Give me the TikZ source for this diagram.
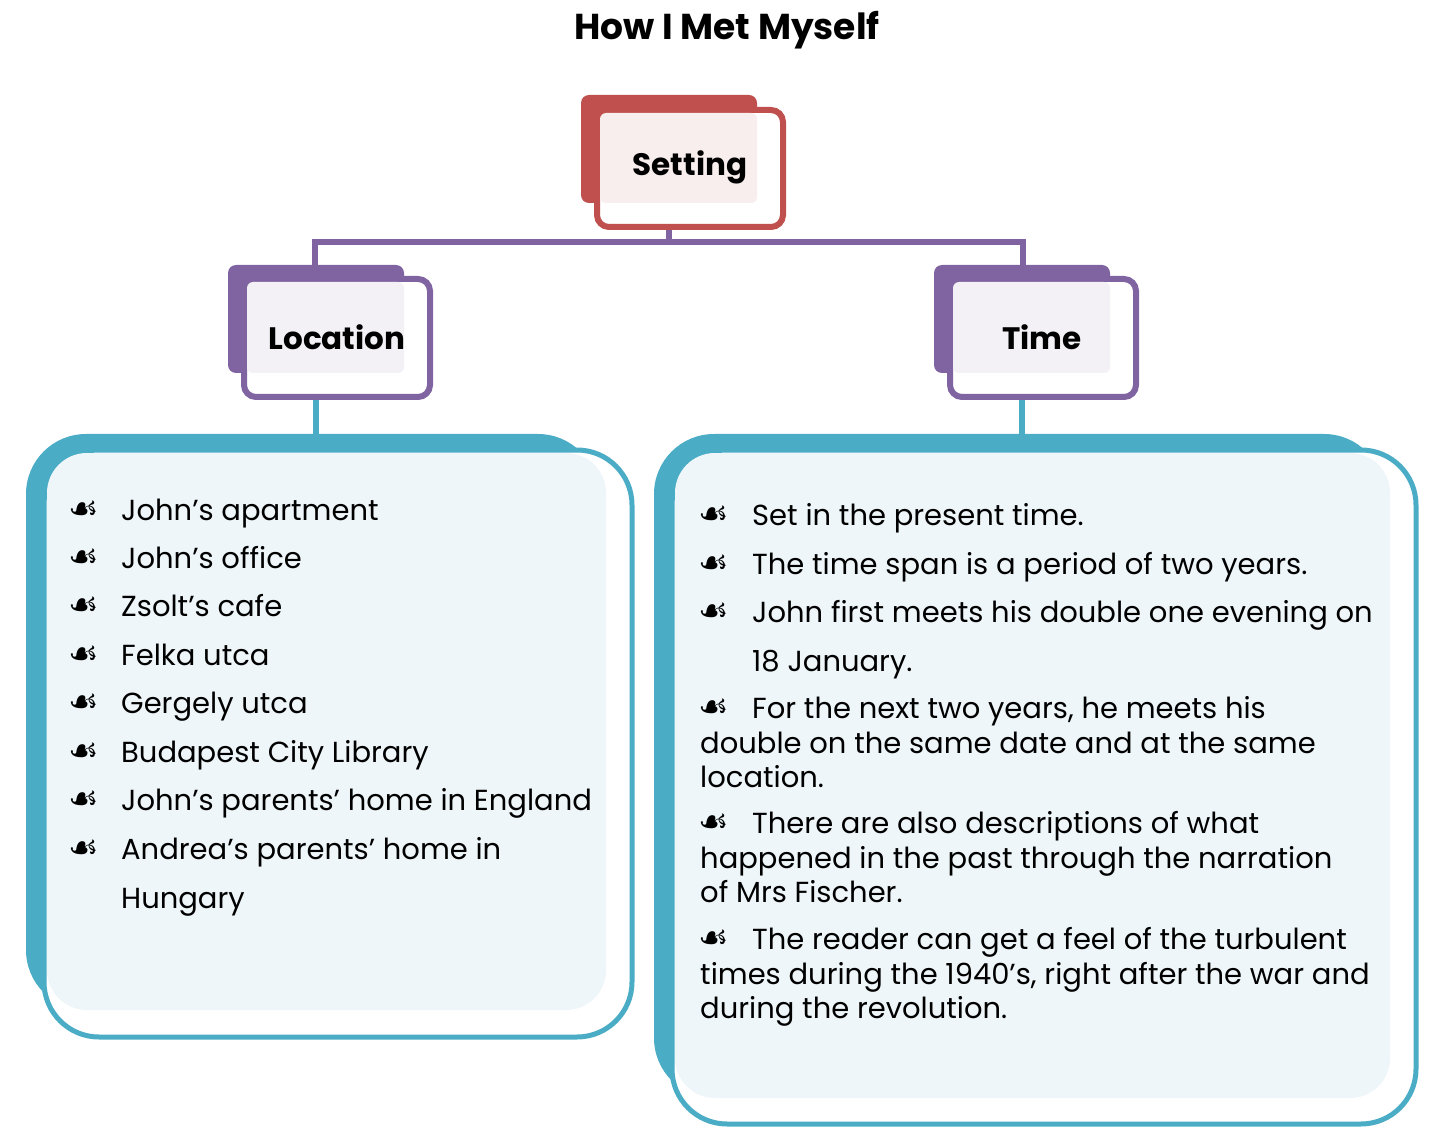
\documentclass[tikz,border=0pt]{standalone}
\usepackage{fontspec}
\setmainfont{Poppins}
\newfontfamily\bulfont{DejaVu Sans}
\definecolor{sred}{HTML}{C0504D}
\definecolor{spink}{HTML}{F7EEED}
\definecolor{spur}{HTML}{8064A2}
\definecolor{spurl}{HTML}{F3F0F6}
\definecolor{steal}{HTML}{4BACC6}
\definecolor{stealb}{HTML}{EEF6F9}
\tikzset{x=1pt,y=-1pt,
 lbl/.style={font=\fontsize{31}{31}\selectfont\bfseries,anchor=center,inner sep=0pt},
 itm/.style={font=\fontsize{29}{29}\selectfont,anchor=base west,inner sep=0pt},
 bul/.style={font=\bulfont\fontsize{34}{34}\selectfont,anchor=base west,inner sep=0pt},
 conn/.style={spur,line width=6pt},
 tconn/.style={steal,line width=6pt}}
\begin{document}
\begin{tikzpicture}
\useasboundingbox (0,0) rectangle (1454,1139);
\node[font=\fontsize{36}{36}\selectfont\bfseries] (title) at (727,30) {How I Met Myself};
% setting
\fill[sred,rounded corners=8pt] (581,95) rectangle (757,203);
\draw[sred,line width=6pt,fill=white,rounded corners=12pt] (597,110) rectangle (783,227);
\fill[spink,rounded corners=6pt] (600,113) rectangle (757,203);
\node[lbl] (setting) at (690,167) {Setting};
% location
\fill[spur,rounded corners=8pt] (228,265) rectangle (404,373);
\draw[spur,line width=6pt,fill=white,rounded corners=12pt] (244,279) rectangle (430,397);
\fill[spurl,rounded corners=6pt] (247,282) rectangle (404,373);
\node[lbl] (loc) at (337,337) {Location};
% time
\fill[spur,rounded corners=8pt] (934,265) rectangle (1110,373);
\draw[spur,line width=6pt,fill=white,rounded corners=12pt] (950,279) rectangle (1136,397);
\fill[spurl,rounded corners=6pt] (953,282) rectangle (1110,373);
\node[lbl] (time) at (1042,337) {Time};
% connectors
\coordinate (sb) at (669,230);
\coordinate (j) at (669,242);
\coordinate (jl) at (315,242);
\coordinate (jr) at (1023,242);
\coordinate (lt) at (315,265);
\coordinate (tt) at (1023,265);
\draw[conn] (sb) -- (j);
\draw[conn] (lt) -- (jl) -- (jr) -- (tt);
\coordinate (lb) at (316,400);
\coordinate (lc) at (316,434);
\coordinate (tb) at (1022,400);
\coordinate (tc) at (1022,434);
\draw[tconn] (lb) -- (lc);
\draw[tconn] (tb) -- (tc);
% left big box
\fill[steal,rounded corners=60pt] (26,434) rectangle (598,1010);
\draw[steal,line width=5pt,fill=white,rounded corners=55pt] (44,450) rectangle (632,1037);
\fill[stealb,rounded corners=40pt] (47,453) rectangle (606,1010);
% right big box
\fill[steal,rounded corners=60pt] (654,434) rectangle (1384,1098);
\draw[steal,line width=5pt,fill=white,rounded corners=55pt] (672,450) rectangle (1416,1124);
\fill[stealb,rounded corners=40pt] (675,453) rectangle (1390,1098);
% left items
\foreach \y/\t [count=\i] in {520/John's apartment,568/John's office,616/Zsolt's cafe,665/Felka utca,713/Gergely utca,762/Budapest City Library,810/John's parents' home in England,859/Andrea's parents' home in}{
  \node[bul] (lb\i) at (68,\y) {☙};
  \node[itm] (li\i) at (121,\y) {\t};
}
\node[itm] (li9) at (121,908) {Hungary};
% right items
\foreach \y/\t [count=\i] in {525/Set in the present time.,574/The time span is a period of two years.,622/John first meets his double one evening on}{
  \node[bul] (rb\i) at (698,\y) {☙};
  \node[itm] (ri\i) at (752,\y) {\t};
}
\node[itm] (ri4) at (752,671) {18 January.};
\node[bul] (rb5) at (698,718) {☙};
\node[itm] (ri5) at (752,718) {For the next two years, he meets his};
\node[itm] (ri6) at (700,753) {double on the same date and at the same};
\node[itm] (ri7) at (700,787) {location.};
\node[bul] (rb8) at (698,833) {☙};
\node[itm] (ri8) at (752,833) {There are also descriptions of what};
\node[itm] (ri9) at (700,868) {happened in the past through the narration};
\node[itm] (ri10) at (700,902) {of Mrs Fischer.};
\node[bul] (rb11) at (698,949) {☙};
\node[itm] (ri11) at (752,949) {The reader can get a feel of the turbulent};
\node[itm] (ri12) at (700,984) {times during the 1940's, right after the war and};
\node[itm] (ri13) at (700,1018) {during the revolution.};
\end{tikzpicture}
\end{document}
